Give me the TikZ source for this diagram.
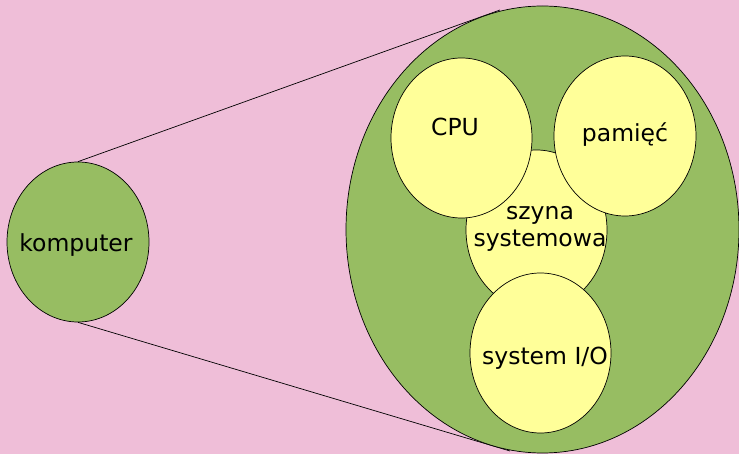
\documentclass[tikz,border=0pt]{standalone}
\usepackage{fontspec}
\setmainfont{DejaVu Sans}
\usetikzlibrary{shapes.geometric}
\definecolor{bgpink}{HTML}{EFBED8}
\definecolor{leaf}{HTML}{97BD62}
\definecolor{cream}{HTML}{FFFF99}
\tikzset{
  blob/.style={ellipse, draw=black, line width=0.7pt, inner sep=0pt},
  greenblob/.style={blob, fill=leaf},
  yellowblob/.style={blob, fill=cream, minimum width=141pt, minimum height=160pt},
  tag/.style={font=\fontsize{23.5}{27.5}\selectfont, inner sep=0pt, align=center},
  link/.style={draw=black, line width=0.7pt}
}
\begin{document}
\begin{tikzpicture}[x=1pt, y=-1pt]
  % page frame
  \fill[bgpink] (0,0) rectangle (739,454);
  \useasboundingbox (0,0) rectangle (739,454);

  % the computer as a whole
  \node[greenblob, minimum width=142pt, minimum height=160pt] (komp) at (78,242) {};
  \node[tag] (kompt) at (76,245) {komputer};

  % zoom lines, drawn beneath the enlarged view
  \coordinate (zt) at (500,10);
  \coordinate (zb) at (510,451);
  \draw[link] (komp.north) -- (zt);
  \draw[link] (komp.south) -- (zb);

  % enlarged view of the computer
  \node[greenblob, minimum width=393pt, minimum height=447pt] (big) at (542.5,229.5) {};

  % components
  \node[yellowblob] (bus) at (536.5,230) {};
  \node[yellowblob] (cpu) at (461.5,138) {};
  \node[yellowblob, minimum width=142pt] (mem) at (625,136) {};
  \node[yellowblob] (io) at (540.5,353) {};

  \node[tag] (cput) at (455,127) {CPU};
  \node[tag] (memt) at (625,135) {pamięć};
  \node[tag] (bust) at (540,229) {szyna\\systemowa};
  \node[tag] (iot) at (545,358) {system I/O};
\end{tikzpicture}
\end{document}
